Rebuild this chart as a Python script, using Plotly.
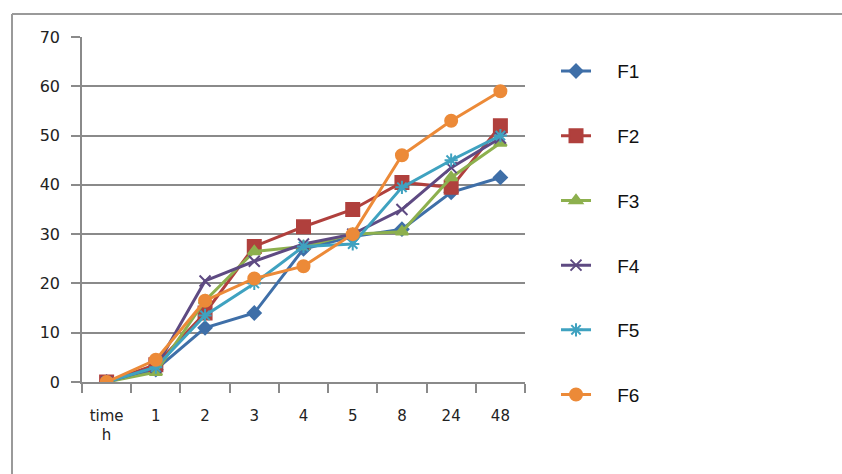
import plotly.graph_objects as go

# Sampling times (first label is the axis caption "time h")
times = ["time<br>h", "1", "2", "3", "4", "5", "8", "24", "48"]

# Cumulative release per formulation
F1 = [0, 2.5, 11.0, 14.0, 27.0, 29.5, 31.0, 38.5, 41.5]
F2 = [0, 3.5, 14.0, 27.5, 31.5, 35.0, 40.5, 39.5, 52.0]
F3 = [0, 2.0, 16.5, 26.5, 27.5, 30.0, 30.5, 41.5, 48.5]
F4 = [0, 3.0, 20.5, 24.5, 28.0, 30.0, 35.0, 43.5, 49.5]
F5 = [0, 3.0, 13.5, 20.0, 27.5, 28.0, 39.5, 45.0, 50.0]
F6 = [0, 4.5, 16.5, 21.0, 23.5, 30.0, 46.0, 53.0, 59.0]

series = [
    ("F1", F1, "#3F6FA8", "diamond", 10),
    ("F2", F2, "#B0403D", "square", 13),
    ("F3", F3, "#8DB04E", "triangle-up", 11),
    ("F4", F4, "#5E4A82", "x-thin-open", 11),
    ("F5", F5, "#3FA2C0", "asterisk-open", 11),
    ("F6", F6, "#EC8A38", "circle", 12),
]

fig = go.Figure()
for name, vals, color, sym, size in series:
    fig.add_trace(go.Scatter(
        x=times, y=vals, name="\u00a0\u00a0\u00a0\u00a0" + name, legendgroup=name,
        mode="lines+markers",
        line=dict(color=color, width=3),
        marker=dict(symbol=sym, size=size, color=color,
                    line=dict(color=color, width=2)),
    ))

fig.update_layout(
    width=842, height=474,
    margin=dict(l=82, r=317, t=37, b=92),
    paper_bgcolor="white", plot_bgcolor="white",
    font=dict(family="DejaVu Sans", size=15, color="#222"),
    showlegend=True,
    legend=dict(
        x=1.07, y=0.956, xanchor="left", yanchor="top",
        font=dict(family="Liberation Sans", size=19, color="#111"),
        tracegroupgap=37, maxheight=470,
        bgcolor="rgba(0,0,0,0)",
    ),
    xaxis=dict(
        type="category", range=[-0.5, 8.5],
        tickson="boundaries", ticks="outside", ticklen=9,
        tickcolor="#8a8a8a", tickwidth=1.5,
        showline=True, linecolor="#8a8a8a", linewidth=1.5,
        showgrid=False, zeroline=False,
        ticklabelstandoff=19,
        tickfont=dict(family="DejaVu Sans", size=15, color="#222"),
    ),
    yaxis=dict(
        range=[0, 70], dtick=10,
        ticks="outside", ticklen=9, tickcolor="#8a8a8a", tickwidth=1.5,
        showline=True, linecolor="#8a8a8a", linewidth=1.5,
        showgrid=True, gridcolor="#8a8a8a", gridwidth=1.5,
        zeroline=False,
        ticklabelstandoff=8,
        tickfont=dict(family="DejaVu Sans", size=16, color="#222"),
    ),
)

# Outer frame of the chart area (top and left edges)
fig.add_shape(type="line", xref="paper", yref="paper",
              x0=(12 - 82) / 443, x1=(842 - 82) / 443,
              y0=(382 - 14) / 345, y1=(382 - 14) / 345,
              line=dict(color="#9a9a9a", width=2))
fig.add_shape(type="line", xref="paper", yref="paper",
              x0=(12 - 82) / 443, x1=(12 - 82) / 443,
              y0=(382 - 14) / 345, y1=(382 - 474) / 345,
              line=dict(color="#9a9a9a", width=2))

fig.write_html("out.html")
